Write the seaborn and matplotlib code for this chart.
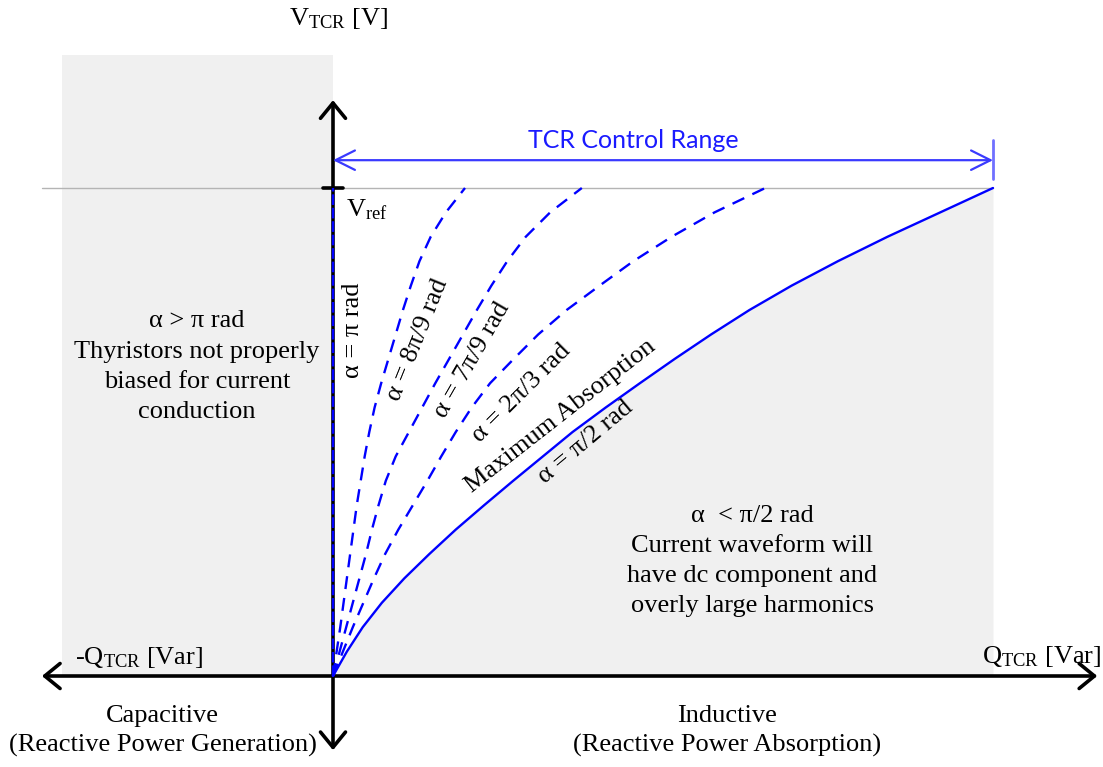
import numpy as np
import pandas as pd
import matplotlib
matplotlib.use("Agg")
import matplotlib.pyplot as plt
import seaborn as sns

# Per-unit voltage levels (V / Vref) at which each characteristic is sampled
v_levels = [0.00, 0.05, 0.10, 0.15, 0.20, 0.25, 0.30, 0.35, 0.40, 0.45, 0.50,
            0.55, 0.60, 0.65, 0.70, 0.75, 0.80, 0.85, 0.90, 0.95, 1.00]

# Reactive power absorbed (per unit of the rated TCR absorption) for each firing angle
q_alpha_pi = [0.0] * 21
q_alpha_8pi9 = [0.000, 0.0055, 0.011, 0.016, 0.021, 0.026, 0.031, 0.036, 0.042, 0.048, 0.055,
                0.063, 0.073, 0.084, 0.095, 0.106, 0.118, 0.131, 0.148, 0.171, 0.200]
q_alpha_7pi9 = [0.000, 0.010, 0.020, 0.030, 0.040, 0.050, 0.059, 0.069, 0.080, 0.095, 0.115,
                0.135, 0.155, 0.176, 0.197, 0.218, 0.240, 0.264, 0.292, 0.329, 0.377]
q_alpha_2pi3 = [0.000, 0.015, 0.030, 0.046, 0.062, 0.079, 0.099, 0.121, 0.143, 0.164, 0.186,
                0.210, 0.238, 0.274, 0.311, 0.354, 0.404, 0.455, 0.513, 0.578, 0.655]
q_alpha_pi2 = [0.000, 0.021, 0.045, 0.074, 0.108, 0.146, 0.186, 0.229, 0.273, 0.318, 0.363,
               0.413, 0.465, 0.518, 0.573, 0.631, 0.695, 0.765, 0.840, 0.920, 1.000]

curve_names = ["α = π rad", "α = 8π/9 rad", "α = 7π/9 rad", "α = 2π/3 rad", "α = π/2 rad"]
curve_values = [q_alpha_pi, q_alpha_8pi9, q_alpha_7pi9, q_alpha_2pi3, q_alpha_pi2]

df = pd.concat(
    [pd.DataFrame({"Q": q, "V": v_levels, "alpha": name}) for name, q in zip(curve_names, curve_values)],
    ignore_index=True,
)

sns.set_style("white")
plt.rcParams["font.family"] = ["Liberation Serif", "DejaVu Serif"]
plt.rcParams["text.color"] = "black"
plt.rcParams["mathtext.fontset"] = "custom"
plt.rcParams["mathtext.rm"] = "Liberation Serif"
plt.rcParams["mathtext.it"] = "Liberation Serif:italic"

BLUE = "#0000ff"
GRAY_FILL = "#f0f0f0"
FS = 19

fig = plt.figure(figsize=(11.03, 7.67), dpi=100)
ax = fig.add_axes([0, 0, 1, 1])
ax.set_xlim(-333 / 660, 770 / 660)
ax.set_ylim(-91 / 488, 676 / 488)
ax.axis("off")

# Shaded regions outside the usable operating area
ax.fill_between([-0.4106, 0.0], 0.0, 1.2725, color=GRAY_FILL, lw=0, zorder=0)
ax.fill_betweenx(v_levels, q_alpha_pi2, 1.0, color=GRAY_FILL, lw=0, zorder=0)

# Reference voltage guide
ax.plot([-0.441, 1.0], [1.0, 1.0], color="#b4b4b4", lw=1.0, zorder=1)

# Axes with open arrow heads
arrow_kw = dict(arrowstyle="->,head_length=0.55,head_width=0.45", lw=2.6, color="black",
                mutation_scale=20, shrinkA=0, shrinkB=0)
for end in [(-0.441, 0.0), (1.158, 0.0), (0.0, 1.180), (0.0, -0.152)]:
    ax.annotate("", xy=end, xytext=(0.0, 0.0), arrowprops=arrow_kw, zorder=2)

# Vref tick
ax.plot([-10 / 660, 10 / 660], [1.0, 1.0], color="black", lw=2.6, zorder=3)

# Characteristic curves
dash_map = {
    "α = π rad": (4.5, 1.2),
    "α = 8π/9 rad": (5.5, 3.8),
    "α = 7π/9 rad": (5.5, 3.8),
    "α = 2π/3 rad": (5.5, 3.8),
    "α = π/2 rad": "",
}
palette = {name: BLUE for name in curve_names}
sns.lineplot(data=df, x="Q", y="V", hue="alpha", style="alpha", palette=palette,
             dashes=dash_map, estimator=None, sort=False, legend=False,
             lw=1.7, ax=ax, zorder=4)

# Control range arrow
ax.annotate("", xy=(0.0, 1.057), xytext=(1.0, 1.057),
            arrowprops=dict(arrowstyle="<->,head_length=0.7,head_width=0.35", lw=1.6,
                            color="#3a3aff", mutation_scale=20, shrinkA=0, shrinkB=0))
ax.plot([1.0, 1.0], [1.018, 1.098], color="#7070ff", lw=2.0)
ax.text(0.4545, 1.098, "TCR Control Range", family=["Lato", "DejaVu Sans"], fontsize=18,
        color="#1a1aff", ha="center", va="center")

# Axis labels
ax.text(0.008, 1.348, r"V$_{\mathrm{TCR}}$ [V]", fontsize=FS, ha="center", va="center")
ax.text(0.0197, 0.955, r"V$_{\mathrm{ref}}$", fontsize=FS, ha="left", va="center")
ax.text(-0.391, 0.037, r"-Q$_{\mathrm{TCR}}$ [Var]", fontsize=FS, ha="left", va="center")
ax.text(0.983, 0.040, r"Q$_{\mathrm{TCR}}$ [Var]", fontsize=FS, ha="left", va="center")
ax.text(-0.258, -0.113, "Capacitive\n(Reactive Power Generation)", fontsize=FS,
        ha="center", va="center", linespacing=1.36)
ax.text(0.597, -0.113, "Inductive\n(Reactive Power Absorption)", fontsize=FS,
        ha="center", va="center", linespacing=1.36)

# Region descriptions
ax.text(-0.206, 0.634, "α > π rad\nThyristors not properly\nbiased for current\nconduction",
        fontsize=FS, ha="center", va="center", linespacing=1.48)
ax.text(0.635, 0.236, "α  < π/2 rad\nCurrent waveform will\nhave dc component and\noverly large harmonics",
        fontsize=FS, ha="center", va="center", linespacing=1.48)

# Curve labels
curve_labels = [
    ("α = π rad", 0.031, 0.709, 90),
    ("α = 8π/9 rad", 0.129, 0.689, 68),
    ("α = 7π/9 rad", 0.211, 0.648, 60),
    ("α = 2π/3 rad", 0.286, 0.580, 45),
    ("Maximum Absorption", 0.345, 0.533, 38),
    ("α = π/2 rad", 0.383, 0.480, 40),
]
for txt, qx, vy, rot in curve_labels:
    ax.text(qx, vy, txt, fontsize=FS, rotation=rot, rotation_mode="anchor",
            ha="center", va="center")

fig.savefig("out.png", dpi=100)
